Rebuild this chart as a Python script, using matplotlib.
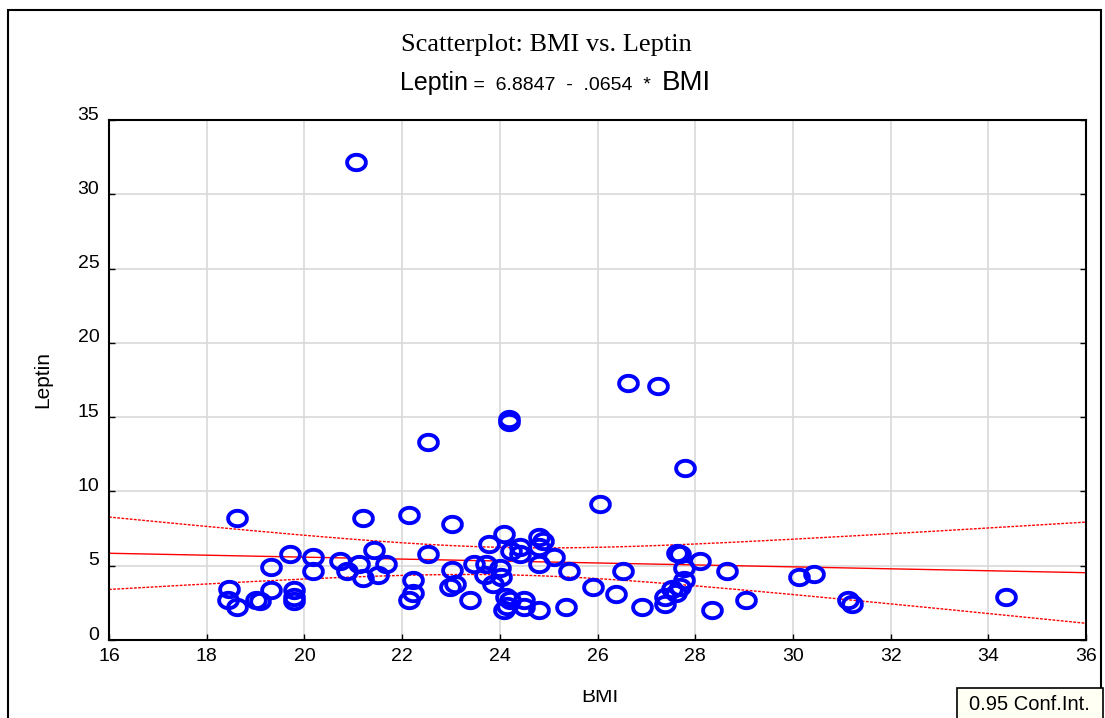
import numpy as np
import matplotlib
matplotlib.use('Agg')
import matplotlib.pyplot as plt
from matplotlib.path import Path
from matplotlib.patches import Rectangle
from matplotlib.transforms import Bbox, TransformedBbox, ScaledTranslation

bmi = [21.06, 26.62, 27.24, 24.19, 24.19, 22.53, 27.79, 26.05, 18.62, 21.20,
       22.14, 23.02, 19.71, 20.18, 19.32, 20.18, 20.73, 21.12, 21.42, 21.67,
       20.87, 21.20, 21.51, 18.46, 18.44, 18.62, 19.01, 19.09, 19.32, 19.79,
       19.79, 19.79, 22.53, 24.09, 23.78, 24.23, 24.41, 24.41, 24.80, 24.88,
       24.80, 25.11, 23.47, 23.72, 24.00, 23.70, 24.02, 24.80, 25.42, 23.02,
       22.22, 23.86, 23.08, 22.98, 22.22, 22.14, 23.39, 24.13, 24.21, 24.15,
       24.09, 24.50, 24.50, 24.80, 25.36, 25.91, 26.38, 26.52, 26.91, 27.38,
       27.38, 27.63, 27.69, 27.77, 28.10, 28.65, 27.77, 27.69, 27.61, 27.52,
       28.34, 29.04, 30.12, 30.43, 31.13, 31.21, 34.36]
leptin = [32.17, 17.29, 17.09, 14.87, 14.67, 13.32, 11.57, 9.15, 8.21, 8.21,
          8.41, 7.81, 5.79, 5.59, 4.91, 4.64, 5.32, 5.11, 6.06, 5.11,
          4.64, 4.17, 4.37, 3.43, 2.69, 2.22, 2.69, 2.62, 3.36, 3.36,
          2.89, 2.62, 5.79, 7.13, 6.46, 5.99, 6.26, 5.79, 6.93, 6.66,
          6.26, 5.59, 5.11, 5.11, 4.85, 4.37, 4.24, 5.11, 4.64, 4.71,
          4.04, 3.77, 3.77, 3.57, 3.16, 2.69, 2.69, 2.89, 2.69, 2.29,
          2.02, 2.69, 2.22, 2.02, 2.22, 3.57, 3.10, 4.64, 2.22, 2.89,
          2.42, 5.85, 5.79, 4.85, 5.32, 4.64, 4.04, 3.57, 3.16, 3.43,
          2.02, 2.69, 4.24, 4.44, 2.69, 2.42, 2.89]

intercept = 6.8847
slope = -0.0654
t_crit = 1.988  # t(0.975, n-2)

x_ticks = [16, 18, 20, 22, 24, 26, 28, 30, 32, 34, 36]
y_ticks = [0, 5, 10, 15, 20, 25, 30, 35]

x = np.array(bmi)
y = np.array(leptin)
n = len(x)
resid = y - (intercept + slope * x)
s = np.sqrt(np.sum(resid ** 2) / (n - 2))
xbar = x.mean()
sxx = np.sum((x - xbar) ** 2)

xs = np.linspace(16, 36, 300)
fit = intercept + slope * xs
half = t_crit * s * np.sqrt(1 / n + (xs - xbar) ** 2 / sxx)

W, H = 1105, 718
fig = plt.figure(figsize=(W / 100, H / 100), dpi=100)
ax = fig.add_axes([109 / W, 78 / H, 977 / W, 520 / H])

# slightly flattened ring marker
th = np.linspace(0, 2 * np.pi, 80)
ring = Path(np.column_stack([np.cos(th), 0.82 * np.sin(th)]))

ax.plot(xs, fit, color='#ff0000', lw=1.0, zorder=2)
ax.plot(xs, fit + half, color='#ff0000', lw=1.0, ls=(0, (2, 1)), zorder=2)
ax.plot(xs, fit - half, color='#ff0000', lw=1.0, ls=(0, (2, 1)), zorder=2)
ax.plot(x, y, ls='none', marker=ring, ms=13.5, mfc='none', mec='#0000ff',
        mew=2.8, zorder=3, clip_on=False)

ax.set_xlim(16, 36)
ax.set_ylim(0, 35)
ax.set_xticks(x_ticks)
ax.set_yticks(y_ticks)
ax.grid(True, color='#d9d9d9', lw=1.2)
ax.set_axisbelow(True)
for sp in ax.spines.values():
    sp.set_color('black')
    sp.set_linewidth(1.5)
ax.tick_params(direction='in', length=4, width=1, left=True, right=True,
               bottom=True, top=False, labelsize=14, pad=6)
ax.tick_params(axis='y', pad=7)

fonts = ['Liberation Sans', 'DejaVu Sans']
lift = ScaledTranslation(0, 7 / 100, fig.dpi_scale_trans)
for lbl in ax.get_xticklabels():
    lbl.set_family(fonts)
for lbl in ax.get_yticklabels():
    lbl.set_family(fonts)
    lbl.set_transform(lbl.get_transform() + lift)

ax.set_ylabel('Leptin', fontsize=15, family=fonts, labelpad=18)

bmi_lbl = fig.text(600 / W, 1 - 697 / H, 'BMI', fontsize=15, family=fonts,
                   ha='center', va='center')
bmi_lbl.set_clip_box(TransformedBbox(Bbox([[0, 0], [1, 1 - 690 / H]]),
                                     fig.transFigure))
bmi_lbl.set_clip_on(True)

fig.text(546 / W, 1 - 45 / H, 'Scatterplot: BMI vs. Leptin',
         fontsize=19, family=['Liberation Serif', 'DejaVu Serif'],
         ha='center', va='center')

# regression equation, large / small / large pieces
renderer = fig.canvas.get_renderer()
base_y = 1 - 90 / H
parts = [('Leptin', 18), (' =  6.8847  -  .0654  *  ', 14), ('BMI', 20)]
x_px = 400
for txt, fs in parts:
    t = fig.text(x_px / W, base_y, txt, fontsize=fs, family=fonts,
                 ha='left', va='baseline')
    x_px = t.get_window_extent(renderer).x1

# figure frame
fig.add_artist(Rectangle((8 / W, -0.05), 1093 / W, 1.05 - 10 / H,
                         transform=fig.transFigure, fill=False,
                         edgecolor='black', lw=1.5))

# confidence-interval legend box
fig.add_artist(Rectangle((957 / W, -0.01), 146 / W, 0.01 + 30 / H,
                         transform=fig.transFigure, facecolor='#fffff4',
                         edgecolor='black', lw=1.2))
fig.text(1029 / W, 1 - 705 / H, '0.95 Conf.Int.', fontsize=14.5, family=fonts,
         ha='center', va='center')

fig.savefig('out.png', dpi=100)
